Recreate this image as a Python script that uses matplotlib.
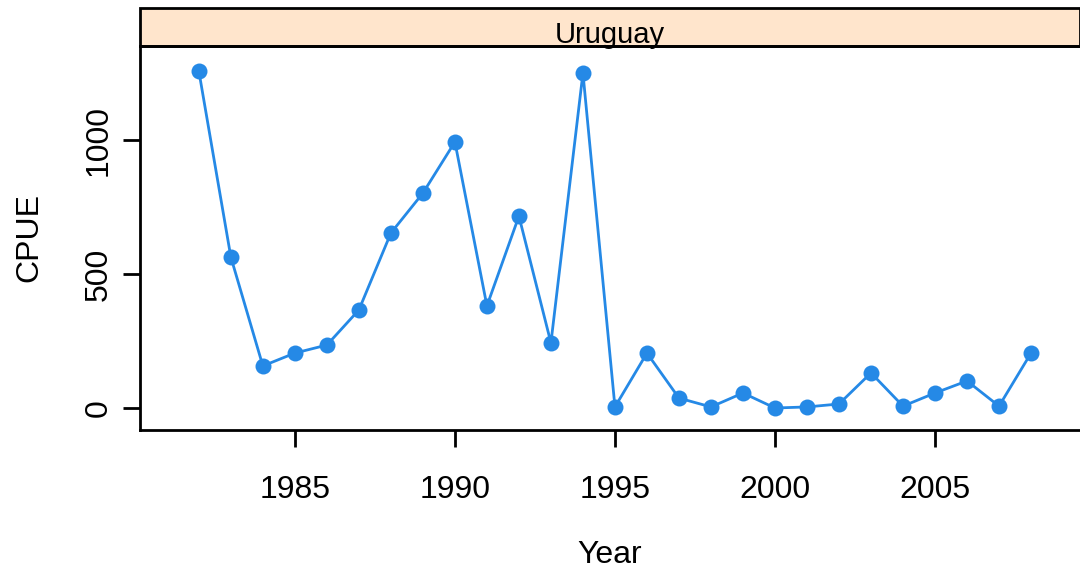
import matplotlib.pyplot as plt
from matplotlib.patches import Rectangle

plt.rcParams['font.family'] = ['Liberation Sans', 'DejaVu Sans']

# CPUE series for Uruguay by year
years = list(range(1982, 2009))
cpue = [1257, 563, 157, 205, 235, 366, 653, 802, 993, 381, 716, 243, 1250,
        4, 205, 37, 4, 56, 0, 4, 15, 131, 7, 56, 101, 7, 205]
panel = "Uruguay"

line_color = '#2589e6'
strip_color = '#ffe5cc'

fig = plt.figure(figsize=(10.8, 5.74), dpi=100)
ax = fig.add_axes([0.1296, 0.2509, 0.8704, 0.669])

ax.plot(years, cpue, color=line_color, lw=2, marker='o', ms=11.5,
        markeredgewidth=0)

ax.set_xlim(1980.16, 2009.53)
ax.set_ylim(-82, 1351)
ax.set_xticks([1985, 1990, 1995, 2000, 2005])
ax.set_yticks([0, 500, 1000])

for s in ['top', 'right']:
    ax.spines[s].set_visible(False)
for s in ['left', 'bottom']:
    ax.spines[s].set_linewidth(2)

ax.tick_params(axis='both', length=12.5, width=2, labelsize=23)
ax.tick_params(axis='x', pad=20)
ax.tick_params(axis='y', pad=6.5, labelrotation=90)
for lab in ax.get_yticklabels():
    lab.set_va('center')

ax.set_xlabel("Year", fontsize=23)
ax.set_ylabel("CPUE", fontsize=23)
ax.xaxis.set_label_coords(0.5, -0.287)
ax.yaxis.set_label_coords(-0.102, 0.5)

# strip on top of the panel
strip = Rectangle((0, 1.0), 1.0, 38 / 384, transform=ax.transAxes,
                  facecolor=strip_color, edgecolor='black', lw=2,
                  clip_on=False)
ax.add_patch(strip)
ax.text(0.5, 1.0 + 3 / 384, panel, transform=ax.transAxes,
        ha='center', va='baseline', fontsize=21)
ax.plot([0, 1], [1, 1], transform=ax.transAxes, color='black', lw=2,
        clip_on=False)

fig.savefig("out.png", dpi=100)
